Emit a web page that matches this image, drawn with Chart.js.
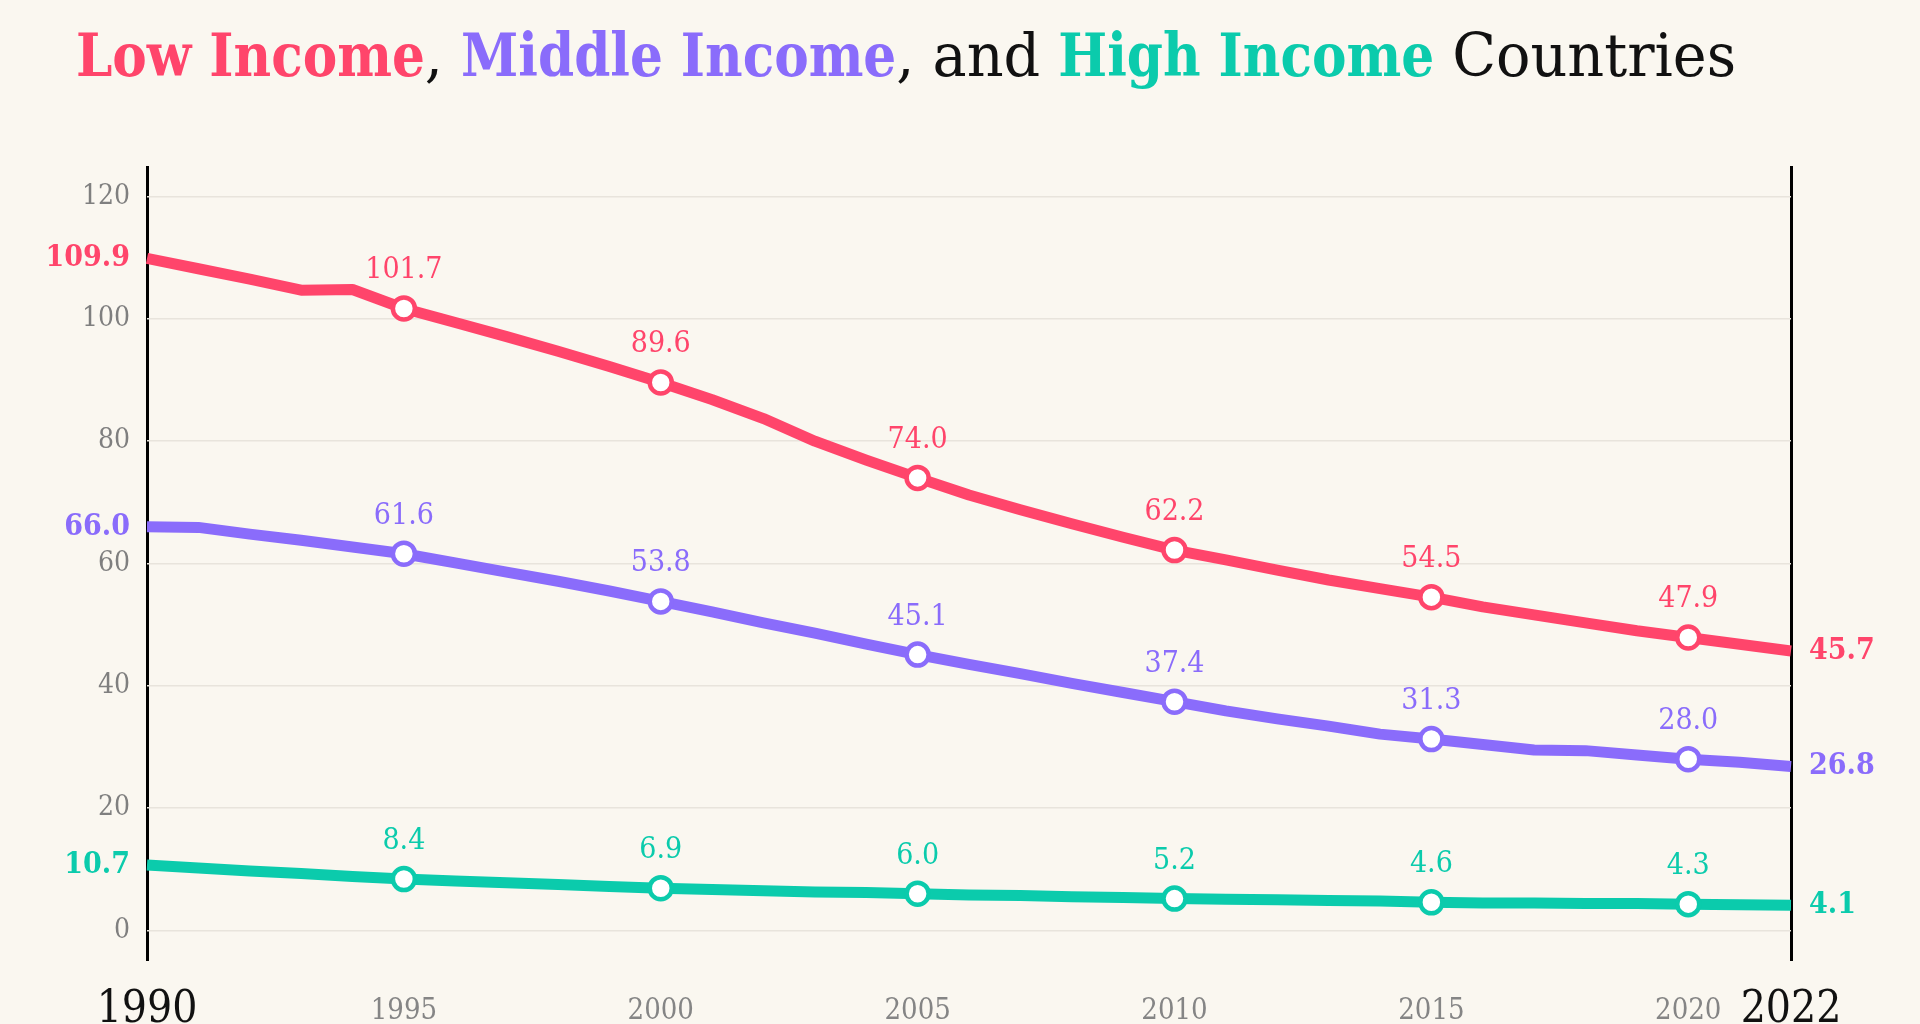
<!DOCTYPE html>
<html>
<head>
<meta charset="utf-8">
<script src="https://cdn.jsdelivr.net/npm/chart.js@4.4.1/dist/chart.umd.min.js"></script>
<style>
  html, body { margin: 0; padding: 0; background: #FAF7F0; }
  #c { display: block; }
</style>
</head>
<body>
<canvas id="c" width="1920" height="1024"></canvas>
<script>
// ---------------- DATA ----------------
const years = [1990,1991,1992,1993,1994,1995,1996,1997,1998,1999,
               2000,2001,2002,2003,2004,2005,2006,2007,2008,2009,
               2010,2011,2012,2013,2014,2015,2016,2017,2018,2019,
               2020,2021,2022];
const lowIncome = [109.9,108.2,106.5,104.7,104.8,101.7,99.4,97.1,94.7,92.2,
                   89.6,86.8,83.7,80.0,76.9,74.0,71.2,68.8,66.5,64.3,
                   62.2,60.6,58.9,57.3,55.9,54.5,52.9,51.6,50.3,49.0,
                   47.9,46.8,45.7];
const middleIncome = [66.0,65.9,64.8,63.8,62.7,61.6,60.1,58.6,57.1,55.5,
                      53.8,52.1,50.3,48.6,46.8,45.1,43.5,42.0,40.4,38.9,
                      37.4,35.9,34.6,33.4,32.1,31.3,30.4,29.5,29.4,28.7,
                      28.0,27.5,26.8];
const highIncome = [10.7,10.2,9.7,9.3,8.8,8.4,8.1,7.8,7.5,7.2,
                    6.9,6.7,6.5,6.3,6.2,6.0,5.8,5.7,5.5,5.4,
                    5.2,5.1,5.0,4.9,4.8,4.6,4.5,4.5,4.4,4.4,
                    4.3,4.2,4.1];
const seriesNames = ['Low Income', 'Middle Income', 'High Income'];
const labelYears = [1995, 2000, 2005, 2010, 2015, 2020];
const yTicks = [0, 20, 40, 60, 80, 100, 120];
const xTicks = [1990, 1995, 2000, 2005, 2010, 2015, 2020, 2022];
const titleParts = [
  {text: 'Low Income', series: 0},
  {text: ', ', series: -1},
  {text: 'Middle Income', series: 1},
  {text: ', and ', series: -1},
  {text: 'High Income', series: 2},
  {text: ' Countries', series: -1}
];

// ---------------- STYLE ----------------
const COLORS = ['#FF456B', '#8A6CFB', '#0BCBAC'];
const BG = '#FAF7F0';

function hasFont(f) {
  const c = document.createElement('canvas').getContext('2d');
  c.font = "40px monospace";
  const a = c.measureText("1995 Income Wg").width;
  c.font = "40px '" + f + "', monospace";
  const b = c.measureText("1995 Income Wg").width;
  return Math.abs(a - b) > 0.5;
}
const COND = hasFont('DejaVu Serif Condensed');
const FAMILY = COND ? "'DejaVu Serif Condensed'" : "'Liberation Serif'";
const SZ = COND
  ? {ytick: 28, label: 30, xtick: 29, xbig: 44, end: 30, title: 59}
  : {ytick: 31, label: 33, xtick: 33, xbig: 48, end: 34, title: 65};
const BOLD_SQUEEZE = 0.985, REG_STRETCH = 1.09;

Chart.defaults.font.family = FAMILY;

const bgPlugin = {
  id: 'bg',
  beforeDraw(chart) {
    const ctx = chart.ctx;
    ctx.save();
    ctx.fillStyle = BG;
    ctx.fillRect(0, 0, chart.width, chart.height);
    ctx.restore();
  }
};

const labelPlugin = {
  id: 'labels',
  afterDatasetsDraw(chart) {
    const ctx = chart.ctx;
    const area = chart.chartArea;
    ctx.save();
    chart.data.datasets.forEach((ds, i) => {
      const meta = chart.getDatasetMeta(i);
      const color = COLORS[i];
      ctx.font = `${SZ.label}px ${FAMILY}`;
      ctx.fillStyle = color;
      ctx.textAlign = 'center';
      ctx.textBaseline = 'alphabetic';
      meta.data.forEach((pt, j) => {
        if (labelYears.includes(years[j])) {
          ctx.fillText(ds.data[j].toFixed(1), pt.x, pt.y - 30);
        }
      });
      ctx.font = `bold ${SZ.end}px ${FAMILY}`;
      ctx.textBaseline = 'middle';
      const first = meta.data[0];
      const last = meta.data[meta.data.length - 1];
      ctx.textAlign = 'right';
      ctx.fillText(ds.data[0].toFixed(1), area.left - 17, first.y);
      ctx.textAlign = 'left';
      ctx.fillText(ds.data[ds.data.length - 1].toFixed(1), area.right + 18, last.y);
    });
    ctx.restore();
  },
  afterDraw(chart) {
    const ctx = chart.ctx;
    const xs = chart.scales.x;
    ctx.save();
    ctx.textAlign = 'center';
    ctx.textBaseline = 'alphabetic';
    xTicks.forEach((yr, k) => {
      const big = (k === 0 || k === xTicks.length - 1);
      ctx.font = `${big ? SZ.xbig : SZ.xtick}px ${FAMILY}`;
      ctx.fillStyle = big ? '#111111' : '#858585';
      ctx.fillText(String(yr), xs.getPixelForValue(yr), big ? 1022 : 1019);
    });
    // title: per-part widths
    const parts = titleParts.map(p => {
      const bold = p.series >= 0;
      ctx.font = `${bold ? 'bold ' : ''}${SZ.title}px ${FAMILY}`;
      const f = bold ? BOLD_SQUEEZE : REG_STRETCH;
      return { p, bold, f, w: ctx.measureText(p.text).width * f };
    });
    const total = parts.reduce((s, q) => s + q.w, 0);
    const sx = 1660 / total;
    ctx.textAlign = 'left';
    let x = 76;
    parts.forEach(q => {
      ctx.save();
      ctx.font = `${q.bold ? 'bold ' : ''}${SZ.title}px ${FAMILY}`;
      ctx.fillStyle = q.bold ? COLORS[q.p.series] : '#111111';
      ctx.translate(x, 76);
      ctx.scale(sx * q.f, 1);
      ctx.fillText(q.p.text, 0, 0);
      ctx.restore();
      x += q.w * sx;
    });
    ctx.restore();
  }
};

const seriesData = [lowIncome, middleIncome, highIncome];

const datasets = seriesData.map((arr, i) => ({
  label: seriesNames[i],
  data: arr,
  borderColor: COLORS[i],
  backgroundColor: COLORS[i],
  borderWidth: 11,
  tension: 0,
  clip: false,
  pointRadius: ctx => labelYears.includes(years[ctx.dataIndex]) ? 11 : 0,
  pointHoverRadius: ctx => labelYears.includes(years[ctx.dataIndex]) ? 11 : 0,
  pointBackgroundColor: '#FFFFFF',
  pointBorderColor: COLORS[i],
  pointBorderWidth: 4.5,
  borderJoinStyle: 'round',
  borderCapStyle: 'butt'
}));

new Chart(document.getElementById('c'), {
  type: 'line',
  data: { labels: years, datasets },
  options: {
    responsive: false,
    animation: false,
    events: [],
    layout: { padding: { top: 166, bottom: 63, left: 80, right: 129 } },
    plugins: { legend: { display: false }, tooltip: { enabled: false }, title: { display: false } },
    scales: {
      x: {
        type: 'linear',
        min: 1990,
        max: 2022,
        afterBuildTicks: s => { s.ticks = xTicks.map(v => ({ value: v })); },
        afterFit: s => { s.height = 0; },
        ticks: { display: false },
        border: { display: false },
        grid: {
          drawTicks: false,
          lineWidth: 3,
          color: ctx => (ctx.tick && (ctx.tick.value === 1990 || ctx.tick.value === 2022)) ? '#000000' : 'rgba(0,0,0,0)'
        }
      },
      y: {
        min: -5,
        max: 125,
        afterBuildTicks: s => { s.ticks = yTicks.map(v => ({ value: v })); },
        afterFit: s => { s.width = 67; },
        ticks: {
          padding: 17,
          color: '#7F7F7F',
          font: { size: SZ.ytick, family: FAMILY }
        },
        border: { display: false },
        grid: { drawTicks: false, color: '#E8E4DC', lineWidth: 1.5 }
      }
    }
  },
  plugins: [bgPlugin, labelPlugin]
});
</script>
</body>
</html>
